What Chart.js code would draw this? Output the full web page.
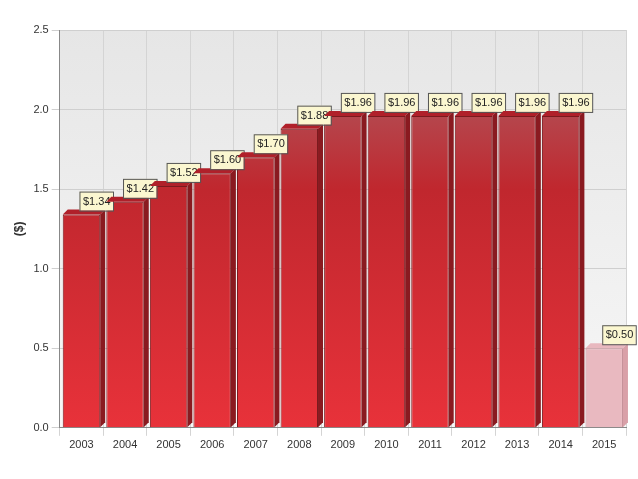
<!DOCTYPE html>
<html>
<head>
<script src="https://cdn.jsdelivr.net/npm/chart.js@4"></script>
<style>
  body { margin: 0; background: #fff; }
  #wrap { width: 638px; height: 479px; }
</style>
</head>
<body>
<div id="wrap"><canvas id="c"></canvas></div>
<script>
const years = ["2003","2004","2005","2006","2007","2008","2009","2010","2011","2012","2013","2014","2015"];
const dividends = [1.34, 1.42, 1.52, 1.60, 1.70, 1.88, 1.96, 1.96, 1.96, 1.96, 1.96, 1.96, 0.50];
const labels = ["$1.34","$1.42","$1.52","$1.60","$1.70","$1.88","$1.96","$1.96","$1.96","$1.96","$1.96","$1.96","$0.50"];

// plot background, 3D bar tops/sides and value tags
const decor = {
  id: "decor",
  beforeDraw(chart) {
    const { ctx, chartArea: a } = chart;
    const g = ctx.createLinearGradient(0, a.top, 0, a.bottom);
    g.addColorStop(0, "#e6e6e6");
    g.addColorStop(1, "#f7f7f7");
    ctx.save();
    ctx.fillStyle = g;
    ctx.fillRect(a.left, a.top, a.right - a.left, a.bottom - a.top);
    ctx.restore();
  },
  afterDatasetsDraw(chart) {
    const { ctx } = chart;
    const meta = chart.getDatasetMeta(0);
    ctx.save();
    meta.data.forEach((bar, i) => {
      const last = i === meta.data.length - 1;
      const w = bar.width, x0 = bar.x - w / 2, x1 = bar.x + w / 2, y = bar.y, d = 5;
      // top face
      ctx.fillStyle = last ? "#e8b8bf" : "#b0202a";
      ctx.beginPath();
      ctx.moveTo(x0, y); ctx.lineTo(x0 + d, y - d); ctx.lineTo(x1 + d, y - d); ctx.lineTo(x1, y);
      ctx.closePath(); ctx.fill();
      // side face
      ctx.fillStyle = last ? "#d9a0a8" : "#8a1a20";
      ctx.beginPath();
      ctx.moveTo(x1, y); ctx.lineTo(x1 + d, y - d); ctx.lineTo(x1 + d, bar.base - d); ctx.lineTo(x1, bar.base);
      ctx.closePath(); ctx.fill();
      // tag
      ctx.font = "11px 'Liberation Sans Narrow', 'Liberation Sans', sans-serif";
      const t = labels[i], tw = ctx.measureText(t).width + 6;
      const bx = bar.x - 2, by = y - 23;
      ctx.fillStyle = "#fbf7d0";
      ctx.strokeStyle = "#555";
      ctx.lineWidth = 1;
      ctx.fillRect(bx, by, tw, 19);
      ctx.strokeRect(bx + 0.5, by + 0.5, tw, 19);
      ctx.fillStyle = "#222";
      ctx.textBaseline = "middle";
      ctx.fillText(t, bx + 3.5, by + 10);
    });
    ctx.restore();
  }
};

new Chart(document.getElementById("c"), {
  type: "bar",
  data: {
    labels: years,
    datasets: [{
      data: dividends,
      backgroundColor: (c) => {
        if (c.dataIndex === years.length - 1) return "#e9b9c0";
        const a = c.chart.chartArea;
        if (!a) return "#d02a30";
        const g = c.chart.ctx.createLinearGradient(0, a.top, 0, a.bottom);
        g.addColorStop(0, "#a86a70");
        g.addColorStop(0.4, "#c0272e");
        g.addColorStop(1, "#e8323a");
        return g;
      },
      borderColor: (c) => c.dataIndex === years.length - 1 ? "#c08890" : "#7a1a1e",
      borderWidth: 1,
      categoryPercentage: 1,
      barPercentage: 0.86
    }]
  },
  options: {
    responsive: true,
    maintainAspectRatio: false,
    animation: false,
    layout: { padding: { top: 30, right: 12, left: 8, bottom: 24 } },
    plugins: { legend: { display: false }, tooltip: { enabled: false } },
    scales: {
      x: {
        grid: { color: "#d4d4d4", offset: true },
        border: { color: "#888" },
        ticks: { color: "#333", font: { size: 11, family: "'Liberation Sans Narrow', sans-serif" } }
      },
      y: {
        min: 0, max: 2.5,
        ticks: { stepSize: 0.5, color: "#333", callback: (v) => v.toFixed(1),
          font: { size: 11, family: "'Liberation Sans Narrow', sans-serif" } },
        grid: { color: "#cfcfcf" },
        border: { color: "#888" },
        title: { display: true, text: "($)", color: "#333", font: { size: 12, weight: "bold" } }
      }
    }
  },
  plugins: [decor]
});
</script>
</body>
</html>
